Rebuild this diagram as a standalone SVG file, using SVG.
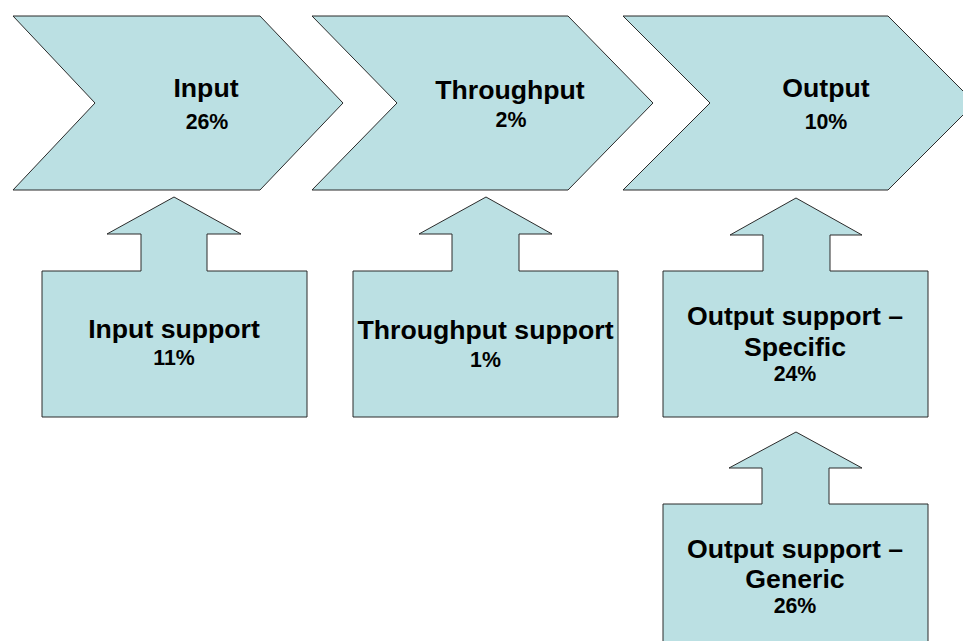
<svg xmlns="http://www.w3.org/2000/svg" width="963" height="641" viewBox="0 0 963 641">
  <style>
    .shape { fill: #BBE0E3; stroke: #2b2b2b; stroke-width: 1; stroke-linejoin: miter; }
    .title { font-family: "Liberation Sans", Arial, sans-serif; font-weight: bold; font-size: 26.67px; fill: #000; text-anchor: middle; }
    .pct { font-family: "Liberation Sans", Arial, sans-serif; font-weight: bold; font-size: 21.33px; fill: #000; text-anchor: middle; }
  </style>
  <rect width="963" height="641" fill="#ffffff"/>

  <!-- Process chevrons -->
  <g id="input">
    <polygon class="shape" points="13,16 260,16 343,103 260,190 13,190 95,103"/>
    <text class="title" x="206" y="97">Input</text>
    <text class="pct" x="207" y="129">26%</text>
  </g>
  <g id="throughput">
    <polygon class="shape" points="312,16 568,16 653,103 568,190 312,190 397,103"/>
    <text class="title" x="510" y="99">Throughput</text>
    <text class="pct" x="511" y="127">2%</text>
  </g>
  <g id="output">
    <polygon class="shape" points="623,16 888,16 975,103 888,190 623,190 710,103"/>
    <text class="title" x="826" y="97">Output</text>
    <text class="pct" x="826" y="129">10%</text>
  </g>

  <!-- Support boxes with upward arrow tops -->
  <g id="input-support">
    <polygon class="shape" points="42,271 141,271 141,234 107,234 174,197 241,234 207,234 207,271 307,271 307,417 42,417"/>
    <text class="title" x="174" y="338">Input support</text>
    <text class="pct" x="174" y="365">11%</text>
  </g>
  <g id="throughput-support">
    <polygon class="shape" points="353,271 452,271 452,234 419,234 486,197 552,234 519,234 519,271 618,271 618,417 353,417"/>
    <text class="title" x="485.5" y="339">Throughput support</text>
    <text class="pct" x="485.5" y="367">1%</text>
  </g>
  <g id="output-support-specific">
    <polygon class="shape" points="663,271 763,271 763,235 730,235 796,198 862,235 830,235 830,271 928,271 928,417 663,417"/>
    <text class="title" x="795" y="325">Output support –</text>
    <text class="title" x="795" y="356">Specific</text>
    <text class="pct" x="795" y="381">24%</text>
  </g>
  <g id="output-support-generic">
    <polygon class="shape" points="663,504 762,504 762,468 729,468 796,432 862,468 829,468 829,504 928,504 928,660 663,660"/>
    <text class="title" x="795" y="558">Output support –</text>
    <text class="title" x="795" y="588">Generic</text>
    <text class="pct" x="795" y="613">26%</text>
  </g>

  <!-- No separate connectors: arrows are part of the support shapes -->
  <g id="connectors"/>
</svg>
